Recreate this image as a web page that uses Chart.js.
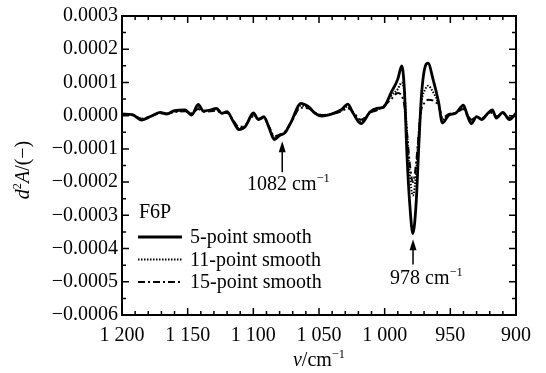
<!DOCTYPE html>
<html>
<head>
<meta charset="utf-8">
<script src="https://cdn.jsdelivr.net/npm/chart.js@4.4.0/dist/chart.umd.min.js"></script>
<style>
  html, body { margin: 0; padding: 0; background: #fff; }
  #wrap { width: 546px; height: 373px; }
</style>
</head>
<body>
<div id="wrap"><canvas id="spectrumChart" width="546" height="373"></canvas></div>
<script>
// second derivative spectra of F6P
const wavenumbers = [1200, 1192, 1185, 1178, 1171, 1166, 1160, 1152, 1147, 1142,
  1138, 1133, 1128, 1124, 1120, 1115, 1111, 1106, 1100, 1096,
  1092, 1088, 1084, 1080, 1076, 1071, 1064, 1058, 1053, 1048,
  1039, 1033, 1028, 1024, 1018, 1011, 1006, 1001, 995, 990,
  987, 985, 983, 981, 978.5, 976, 974, 972, 969, 967,
  963, 959, 956, 951, 946, 940, 937, 934, 930, 926,
  922, 918, 915, 910, 905, 900];

const smooth5 = [0.000005, 0.000003, -0.000013, -0.000002, 0.00001, 0.000005, 0.000015, 0.000017, 0.000002, 0.000034,
  0.000014, 0.000017, 0.000022, 0.000007, 0.000012, -0.00002, -0.000042, -0.000032, 0.000008, -0.000012,
  -0.000003, -0.000037, -0.000072, -0.00006, -0.000052, -0.000017, 0.000037, 0.000027, 0.000007, -0.000001,
  0.000007, 0.000018, 0.000035, 0.000007, -0.000024, 0.000012, 0.000022, 0.000025, 0.00007, 0.00011,
  0.00015, 0.00008, -0.00012, -0.00026, -0.000355, -0.00026, -0.00009, 0.00006, 0.00015, 0.000158,
  0.000107, 0.000042, -0.000022, 0.000002, 0.000007, 0.000032, 0, -0.000024, -0.000003, -0.000012,
  0.000005, 0.000017, -0.000007, 0.00001, -0.000012, 0.000007];

const smooth11 = [0.000004, 0.000002, -0.00001, -0.000002, 0.000008, 0.000006, 0.000013, 0.000015, 0.000006, 0.000025,
  0.000013, 0.000015, 0.000018, 0.000008, 0.00001, -0.000018, -0.000038, -0.00003, 0.000002, -0.00001,
  -0.000006, -0.000035, -0.000066, -0.000058, -0.00005, -0.000018, 0.00003, 0.000025, 0.000008, 0.000001,
  0.000007, 0.000015, 0.000028, 0.000009, -0.000018, 0.00001, 0.000018, 0.000028, 0.00006, 0.00008,
  0.0001, 0.00007, -0.00005, -0.00017, -0.00024, -0.00017, -0.00005, 0.00004, 0.00008, 0.00009,
  0.00007, 0.000035, -0.000012, 0.000004, 0.000008, 0.000026, 0.000003, -0.000018, -0.000004, -0.00001,
  0.000004, 0.000013, -0.000004, 0.000008, -0.00001, 0.000005];

const smooth15 = [0.000004, 0.000001, -0.000009, -0.000002, 0.000007, 0.000006, 0.000011, 0.000013, 0.000007, 0.00002,
  0.000012, 0.000013, 0.000015, 0.000008, 0.000008, -0.000016, -0.000034, -0.000028, -0.000002, -0.000009,
  -0.000008, -0.000033, -0.000062, -0.000057, -0.000048, -0.000019, 0.000024, 0.000022, 0.000009, 0.000002,
  0.000006, 0.000013, 0.000022, 0.00001, -0.000012, 0.000009, 0.000016, 0.000028, 0.00005, 0.000068,
  0.00006, 0.00003, -0.00005, -0.00014, -0.0002, -0.00014, -0.00005, 0.00002, 0.00004, 0.000048,
  0.000045, 0.00003, -0.000006, 0.000005, 0.000008, 0.00002, 0.000005, -0.000012, -0.000004, -0.000008,
  0.000003, 0.000009, -0.000002, 0.000006, -0.000007, 0.000004];

const seriesNames = ['5-point smooth', '11-point smooth', '15-point smooth'];
const sampleName = 'F6P';

const xTickValues = [1200, 1150, 1100, 1050, 1000, 950, 900];
const xTickLabels = ['1 200', '1 150', '1 100', '1 050', '1 000', '950', '900'];
const yTickValues = [0.0003, 0.0002, 0.0001, 0, -0.0001, -0.0002, -0.0003, -0.0004, -0.0005, -0.0006];
const yTickLabels = ['0.0003', '0.0002', '0.0001', '0.0000', '\u22120.0001', '\u22120.0002',
  '\u22120.0003', '\u22120.0004', '\u22120.0005', '\u22120.0006'];

const FONT = "'Liberation Serif', 'Times New Roman', serif";

function toPoints(ys) {
  return wavenumbers.map((w, i) => ({ x: w, y: ys[i] }));
}

function lookupLabel(values, labels, v) {
  for (let i = 0; i < values.length; i++) {
    if (Math.abs(values[i] - v) < 1e-9) return labels[i];
  }
  return '';
}

// draw text made of parts: {t, it (italic), sup (superscript)}
function richWidth(ctx, parts, size) {
  let w = 0;
  parts.forEach(p => {
    const s = p.sup ? size * 0.62 : size;
    ctx.font = (p.it ? 'italic ' : '') + s + 'px ' + FONT;
    w += ctx.measureText(p.t).width;
  });
  return w;
}

function drawRich(ctx, parts, x, y, size, align) {
  let w = richWidth(ctx, parts, size);
  let cx = align === 'center' ? x - w / 2 : x;
  ctx.textBaseline = 'alphabetic';
  ctx.textAlign = 'left';
  parts.forEach(p => {
    const s = p.sup ? size * 0.62 : size;
    ctx.font = (p.it ? 'italic ' : '') + s + 'px ' + FONT;
    ctx.fillText(p.t, cx, p.sup ? y - size * 0.38 : y);
    cx += ctx.measureText(p.t).width;
  });
}

function arrow(ctx, x, yTip, yBase) {
  ctx.beginPath();
  ctx.moveTo(x, yBase);
  ctx.lineTo(x, yTip + 8);
  ctx.lineWidth = 1.5;
  ctx.stroke();
  ctx.beginPath();
  ctx.moveTo(x, yTip);
  ctx.lineTo(x - 3.5, yTip + 11);
  ctx.lineTo(x + 3.5, yTip + 11);
  ctx.closePath();
  ctx.fill();
}

const framePlugin = {
  id: 'framePlugin',
  afterDraw(chart) {
    const ctx = chart.ctx;
    const a = chart.chartArea;
    const xs = chart.scales.x, ys = chart.scales.y;
    ctx.save();
    ctx.strokeStyle = '#000';
    ctx.fillStyle = '#000';

    // frame
    ctx.lineWidth = 2;
    ctx.strokeRect(a.left, a.top, a.right - a.left, a.bottom - a.top);

    // inward ticks, all four sides
    ctx.lineWidth = 1.5;
    ctx.beginPath();
    for (let w = 900; w <= 1200; w += 10) {
      const px = xs.getPixelForValue(w);
      const len = (w % 50 === 0) ? 7 : 4;
      ctx.moveTo(px, a.bottom); ctx.lineTo(px, a.bottom - len);
      ctx.moveTo(px, a.top); ctx.lineTo(px, a.top + len);
    }
    for (let k = -12; k <= 6; k++) {
      const py = ys.getPixelForValue(k * 0.00005);
      const len = (k % 2 === 0) ? 7 : 4;
      ctx.moveTo(a.left, py); ctx.lineTo(a.left + len, py);
      ctx.moveTo(a.right, py); ctx.lineTo(a.right - len, py);
    }
    ctx.stroke();

    // legend
    ctx.font = '20px ' + FONT;
    ctx.textBaseline = 'middle';
    ctx.textAlign = 'left';
    ctx.fillText(sampleName, 139, 213);
    chart.data.datasets.forEach((ds, i) => {
      const y = 237 + i * 22.5;
      ctx.beginPath();
      ctx.setLineDash(ds.borderDash || []);
      ctx.lineWidth = ds.borderWidth;
      ctx.moveTo(138, y);
      ctx.lineTo(182, y);
      ctx.stroke();
      ctx.setLineDash([]);
      ctx.font = '20px ' + FONT;
      ctx.textBaseline = 'middle';
      ctx.fillText(ds.label, 190, y + 1);
    });

    // peak annotations
    const x1 = xs.getPixelForValue(1078);
    arrow(ctx, x1, ys.getPixelForValue(-0.000077), ys.getPixelForValue(-0.000170));
    drawRich(ctx, [{ t: '1082 cm' }, { t: '\u22121', sup: true }], 247, 190, 20, 'left');
    const x2 = xs.getPixelForValue(978.4);
    arrow(ctx, x2, ys.getPixelForValue(-0.000372), ys.getPixelForValue(-0.000448));
    drawRich(ctx, [{ t: '978 cm' }, { t: '\u22121', sup: true }], 390, 284, 20, 'left');

    // axis titles
    drawRich(ctx, [{ t: 'v', it: true }, { t: '/cm' }, { t: '\u22121', sup: true }],
      (a.left + a.right) / 2, 366, 20, 'center');
    ctx.save();
    ctx.translate(29, 170);
    ctx.rotate(-Math.PI / 2);
    drawRich(ctx, [{ t: 'd', it: true }, { t: '2', sup: true }, { t: 'A', it: true }, { t: '/(\u2212)' }],
      0, 0, 20, 'center');
    ctx.restore();

    ctx.restore();
  }
};

document.addEventListener('DOMContentLoaded', function () {
  const ctx = document.getElementById('spectrumChart').getContext('2d');
  new Chart(ctx, {
    type: 'line',
    data: {
      datasets: [{
        label: seriesNames[0],
        data: toPoints(smooth5),
        borderColor: '#000',
        borderWidth: 2.8,
        borderDash: [],
        pointRadius: 0,
        cubicInterpolationMode: 'monotone'
      }, {
        label: seriesNames[1],
        data: toPoints(smooth11),
        borderColor: '#000',
        borderWidth: 2,
        borderDash: [1.5, 1.5],
        pointRadius: 0,
        cubicInterpolationMode: 'monotone'
      }, {
        label: seriesNames[2],
        data: toPoints(smooth15),
        borderColor: '#000',
        borderWidth: 2,
        borderDash: [7, 3, 2, 3],
        pointRadius: 0,
        cubicInterpolationMode: 'monotone'
      }]
    },
    options: {
      responsive: false,
      animation: false,
      devicePixelRatio: 1,
      layout: { padding: { top: 12, right: 30, left: 0, bottom: 0 } },
      plugins: {
        legend: { display: false },
        tooltip: { enabled: false }
      },
      scales: {
        x: {
          type: 'linear',
          reverse: true,
          min: 900,
          max: 1200,
          grid: { display: false, drawTicks: false, tickLength: 0 },
          border: { display: false },
          ticks: {
            stepSize: 50,
            padding: 9,
            color: '#000',
            font: { family: FONT, size: 20 },
            maxRotation: 0,
            callback: v => lookupLabel(xTickValues, xTickLabels, v)
          },
          afterFit: s => { s.height = 58; }
        },
        y: {
          min: -0.0006,
          max: 0.0003,
          grid: { display: false, drawTicks: false, tickLength: 0 },
          border: { display: false },
          ticks: {
            stepSize: 0.0001,
            padding: 4,
            color: '#000',
            font: { family: FONT, size: 20 },
            callback: v => lookupLabel(yTickValues, yTickLabels, v)
          },
          afterFit: s => { s.width = 122; }
        }
      }
    },
    plugins: [framePlugin]
  });
});
</script>
</body>
</html>
